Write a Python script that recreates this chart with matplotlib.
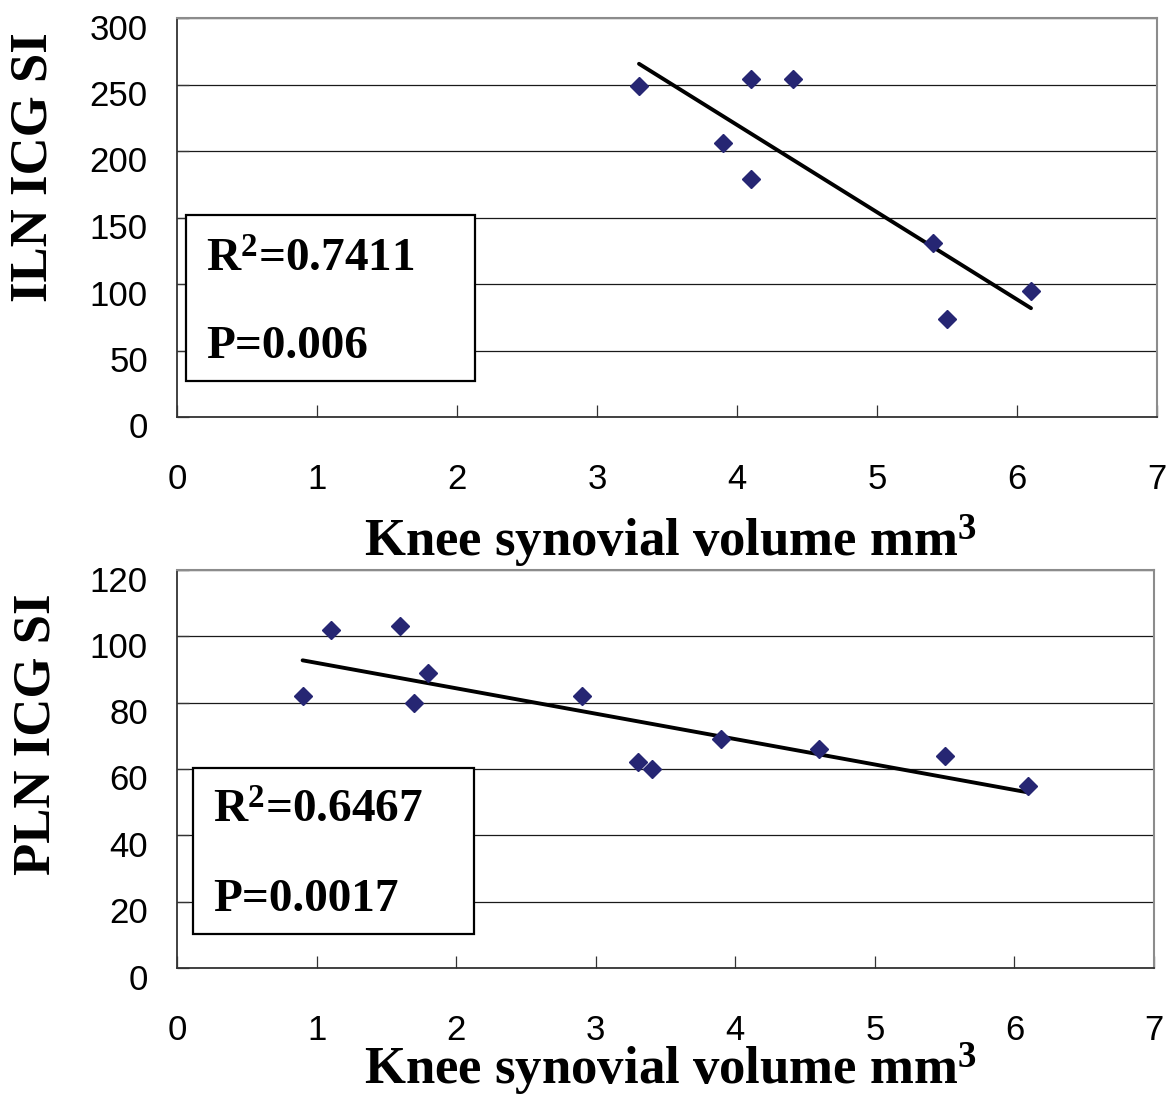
import matplotlib
matplotlib.use('Agg')
import matplotlib.pyplot as plt
import matplotlib.transforms as mtransforms
import numpy as np
from matplotlib.patches import Rectangle

# ---------------- data ----------------
iln_x = [3.3, 3.9, 4.1, 4.1, 4.4, 5.4, 5.5, 6.1]
iln_y = [249, 206, 254, 179, 254, 131, 74, 95]

pln_x = [0.9, 1.1, 1.6, 1.7, 1.8, 2.9, 3.3, 3.4, 3.9, 4.6, 5.5, 6.1]
pln_y = [82, 102, 103, 80, 89, 82, 62, 60, 69, 66, 64, 55]

x_ticks = [0, 1, 2, 3, 4, 5, 6, 7]
iln_yticks = [0, 50, 100, 150, 200, 250, 300]
pln_yticks = [0, 20, 40, 60, 80, 100, 120]

xlabel = "Knee synovial volume mm$^{3}$"
iln_ylabel = "ILN ICG SI"
pln_ylabel = "PLN ICG SI"
iln_stats = ["R$^{2}$=0.7411", "P=0.006"]
pln_stats = ["R$^{2}$=0.6467", "P=0.0017"]

# ---------------- style ----------------
plt.rcParams['mathtext.fontset'] = 'custom'
plt.rcParams['mathtext.rm'] = 'Liberation Serif:bold'
plt.rcParams['mathtext.bf'] = 'Liberation Serif:bold'
plt.rcParams['mathtext.it'] = 'Liberation Serif:bold'
plt.rcParams['mathtext.default'] = 'rm'

W, H = 1173, 1094
fig = plt.figure(figsize=(W / 100, H / 100), dpi=100)
fig.patch.set_facecolor('white')


def fx(px):
    return px / W


def fy(py):
    return 1 - py / H


ax1 = fig.add_axes([fx(177), fy(417), (1157 - 177) / W, (417 - 18) / H])
ax2 = fig.add_axes([fx(177), fy(968), (1154 - 177) / W, (968 - 570) / H])

SERIF = 'Liberation Serif'
SANS = 'Liberation Sans'
MARK = '#262673'


def style(ax, xs, ys, yticks):
    ax.set_xlim(0, 7)
    ax.set_ylim(yticks[0], yticks[-1])
    ax.set_xticks(x_ticks)
    ax.set_yticks(yticks)
    ax.set_xticklabels([str(t) for t in x_ticks], fontfamily=SANS, fontsize=25)
    ax.set_yticklabels([str(t) for t in yticks], fontfamily=SANS, fontsize=25)
    ax.tick_params(axis='x', direction='in', length=8.5, width=0.9, pad=33, colors='#333333', labelcolor='black')
    ax.tick_params(axis='y', direction='in', length=8.5, width=0.9, pad=21, colors='#333333', labelcolor='black')
    shift = mtransforms.ScaledTranslation(0, -0.085, fig.dpi_scale_trans)
    for t in ax.yaxis.get_major_ticks():
        t.label1.set_transform(t.label1.get_transform() + shift)
    ax.yaxis.grid(True, color='#1a1a1a', linewidth=0.9)
    ax.set_axisbelow(True)
    for s in ['left', 'bottom']:
        ax.spines[s].set_color('#333333')
        ax.spines[s].set_linewidth(1.3)
    for s in ['top', 'right']:
        ax.spines[s].set_color('#8c8c8c')
        ax.spines[s].set_linewidth(1.5)
    # trend line from least squares fit
    xs_a = np.asarray(xs, dtype=float)
    ys_a = np.asarray(ys, dtype=float)
    k, b = np.polyfit(xs_a, ys_a, 1)
    xl = np.array([xs_a.min(), xs_a.max()])
    ax.plot(xl, k * xl + b, color='black', linewidth=2.8, solid_capstyle='round', zorder=3)
    ax.plot(xs, ys, linestyle='none', marker='D', markersize=9,
            markerfacecolor=MARK, markeredgecolor=MARK, zorder=4)


style(ax1, iln_x, iln_y, iln_yticks)
style(ax2, pln_x, pln_y, pln_yticks)

# axis labels
fig.text(fx(670), fy(556), xlabel, ha='center', va='baseline',
         fontfamily=SERIF, fontweight='bold', fontsize=38)
fig.text(fx(670), fy(1085), xlabel, ha='center', va='baseline',
         fontfamily=SERIF, fontweight='bold', fontsize=38)
fig.text(fx(34), fy(167), iln_ylabel, ha='center', va='center', rotation=90,
         fontfamily=SERIF, fontweight='bold', fontsize=38)
fig.text(fx(37), fy(734), pln_ylabel, ha='center', va='center', rotation=90,
         fontfamily=SERIF, fontweight='bold', fontsize=38)


def stat_box(x0, y0, x1, y1, tx, b1, b2, lines):
    rect = Rectangle((fx(x0), fy(y1)), (x1 - x0) / W, (y1 - y0) / H,
                     transform=fig.transFigure, facecolor='white',
                     edgecolor='black', linewidth=1.6, zorder=5)
    fig.add_artist(rect)
    fig.text(fx(tx), fy(b1), lines[0], ha='left', va='baseline', zorder=6,
             fontfamily=SERIF, fontweight='bold', fontsize=34)
    fig.text(fx(tx), fy(b2), lines[1], ha='left', va='baseline', zorder=6,
             fontfamily=SERIF, fontweight='bold', fontsize=34)


stat_box(186, 215, 475, 381, 206, 272, 358, iln_stats)
stat_box(193, 768, 474, 934, 213, 823, 911, pln_stats)

fig.savefig('out.png', dpi=100, facecolor='white')
